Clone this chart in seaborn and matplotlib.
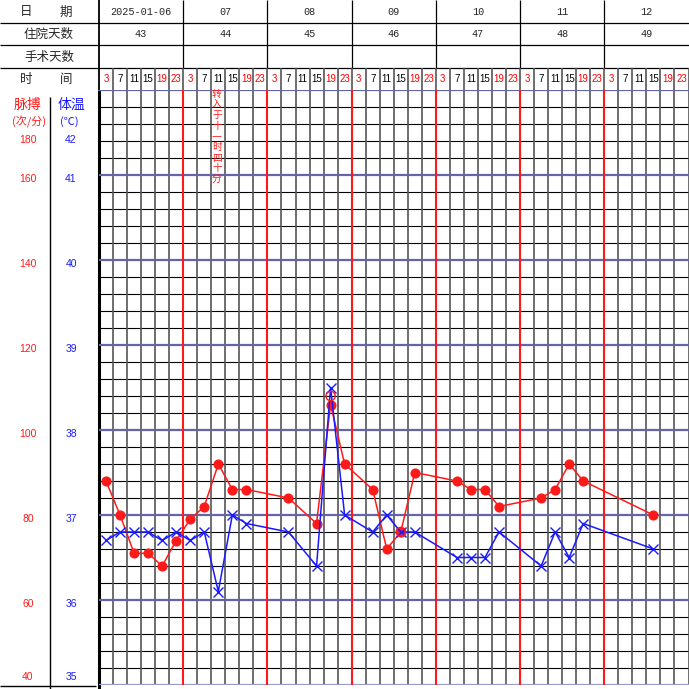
import matplotlib
matplotlib.use("Agg")
import matplotlib.pyplot as plt
import matplotlib.transforms as mtrans
import pandas as pd
import seaborn as sns

# header rows
dates = ["2025-01-06", "07", "08", "09", "10", "11", "12"]
hosp_days = ["43", "44", "45", "46", "47", "48", "49"]
hours = ["3", "7", "11", "15", "19", "23"]
hour_colors = ["#ff0000", "black", "black", "black", "#ff0000", "#ff0000"]

# measurements, slot = column index (6 slots per day)
slots = [0, 1, 2, 3, 4, 5, 6, 7, 8, 9, 10, 13, 15, 16, 17, 19, 20, 21, 22,
         25, 26, 27, 28, 31, 32, 33, 34, 39]
pulse = [88, 80, 71, 71, 68, 74, 79, 82, 92, 86, 86, 84, 78, 106, 92, 86, 72,
         76, 90, 88, 86, 86, 82, 84, 86, 92, 88, 80]
temp = [36.7, 36.8, 36.8, 36.8, 36.7, 36.8, 36.7, 36.8, 36.1, 37.0, 36.9,
        36.8, 36.4, 38.5, 37.0, 36.8, 37.0, 36.8, 36.8, 36.5, 36.5, 36.5,
        36.8, 36.4, 36.8, 36.5, 36.9, 36.6]

# red hollow circles
circle_slots = [16, 21]
circle_temp = [38.4, 36.8]

# vertical note
note = "转入于十一时四十分"
note_slot = 8

pulse_ticks = [180, 160, 140, 120, 100, 80, 60, 40]
temp_ticks = [42, 41, 40, 39, 38, 37, 36, 35]

sns.set_style("white")
plt.rcParams["font.family"] = ["Noto Sans CJK SC", "DejaVu Sans"]

RED = "#ff1a1a"
BLUE = "#1a1aff"
GRID_BLUE = "#6464a8"

# pixel layout of the sheet
W = 689
left, right, top, bottom = 99, 688.5, 90, 685
ncol = 42
colw = (right - left) / ncol
row_y = [22.5, 45, 67.5]

fig = plt.figure(figsize=(6.89, 6.89), dpi=100)
hax = fig.add_axes([0, 0, 1, 1], zorder=0)
hax.set_xlim(0, W)
hax.set_ylim(W, 0)
hax.axis("off")

ax = fig.add_axes([left / W, (W - bottom) / W, (right - left) / W, (bottom - top) / W], zorder=1)
ax.set_xlim(0, ncol)
ax.set_ylim(40, 180)
ax.axis("off")
ax_t = ax.twinx()
ax_t.set_ylim(35, 42)
ax_t.axis("off")

# grid
for p in range(40, 181, 4):
    if p % 20 == 0:
        ax.axhline(p, color=GRID_BLUE if p > 40 else "#9a9ad0", lw=1.6, zorder=2)
    else:
        ax.axhline(p, color="black", lw=0.8, zorder=1)
for c in range(1, ncol + 1):
    if c % 6 == 0 and c < ncol:
        ax.axvline(c, color=RED, lw=1.5, zorder=3)
    else:
        ax.axvline(c, color="#555555", lw=1.2, zorder=1)

# header table
hax.hlines(row_y, 0, W, color="black", lw=0.9)
hax.vlines(left, 0, top, color="black", lw=1.3)
hax.vlines(left, top, W, color="black", lw=2.2)
for d in range(1, 7):
    hax.vlines(left + d * 6 * colw, 0, row_y[2], color="black", lw=0.9)
for c in range(1, ncol + 1):
    hax.vlines(left + c * colw, row_y[2], top, color="#555555", lw=1.2)

for d in range(7):
    xc = left + (d + 0.5) * 6 * colw
    hax.text(xc, 12, dates[d], ha="center", va="center", fontsize=7.3,
             family="Liberation Mono")
    hax.text(xc, 34, hosp_days[d], ha="center", va="center", fontsize=7.3,
             family="Liberation Mono")
    for k in range(6):
        hax.text(left + (d * 6 + k + 0.5) * colw, 79, hours[k], ha="center",
                 va="center", fontsize=7, color=hour_colors[k],
                 family="Liberation Sans")

for label, y in zip(["住院天数", "手术天数"], [34, 57]):
    hax.text(49, y, label, ha="center", va="center", fontsize=9)
hax.text(26, 12, "日", ha="center", va="center", fontsize=9)
hax.text(66, 12, "期", ha="center", va="center", fontsize=9)
hax.text(26, 79, "时", ha="center", va="center", fontsize=9)
hax.text(66, 79, "间", ha="center", va="center", fontsize=9)

# left scale columns
hax.vlines(50, 97, W, color="black", lw=1.0)
hax.hlines(686, 0, 96, color="black", lw=1.0)
hax.text(28, 105, "脉搏", ha="center", va="center", fontsize=10, color=RED)
hax.text(29, 122, "(次/分)", ha="center", va="center", fontsize=8, color=RED)
hax.text(71, 105, "体温", ha="center", va="center", fontsize=10, color=BLUE)
hax.text(69, 122, "(℃)", ha="center", va="center", fontsize=8, color=BLUE)

ptrans = mtrans.blended_transform_factory(hax.transData, ax.transData)
ttrans = mtrans.blended_transform_factory(hax.transData, ax_t.transData)
px_per_pulse = (bottom - top) / 140
px_per_deg = (bottom - top) / 7
for p, t in zip(pulse_ticks, temp_ticks):
    shift = 4
    if p == 180:
        shift = 50
    elif p == 40:
        shift = -8
    hax.text(28, p - shift / px_per_pulse, str(p), transform=ptrans, ha="center",
             va="center", fontsize=7.5, color=RED, family="Liberation Sans")
    hax.text(71, t - shift / px_per_deg, str(t), transform=ttrans, ha="center",
             va="center", fontsize=7.5, color=BLUE, family="Liberation Sans")

# vertical note, drawn above the grid
ntrans = mtrans.blended_transform_factory(ax.transData, hax.transData)
for k, ch in enumerate(note):
    ax_t.text(note_slot + 0.4, 94 + k * 10.6, ch, transform=ntrans, ha="center",
              va="center", fontsize=7, color=RED, zorder=8)

# data
df = pd.DataFrame({"x": [s + 0.5 for s in slots], "pulse": pulse, "temp": temp})
sns.lineplot(data=df, x="x", y="pulse", ax=ax, color=RED, lw=1.1, marker="o",
             markersize=7.3, markeredgewidth=0, markerfacecolor=RED, sort=False,
             zorder=5)
sns.lineplot(data=df, x="x", y="temp", ax=ax_t, color=BLUE, lw=1.1, marker="x",
             markersize=7, markeredgewidth=1.0, markeredgecolor=BLUE,
             sort=False, zorder=6)
ax_t.scatter([s + 0.5 for s in circle_slots], circle_temp, s=45,
             facecolors="none", edgecolors=RED, linewidths=1.0, zorder=7)
ax.set_xlim(0, ncol)
ax.set_ylim(40, 180)
ax_t.set_ylim(35, 42)

fig.savefig("out.png", dpi=100)
